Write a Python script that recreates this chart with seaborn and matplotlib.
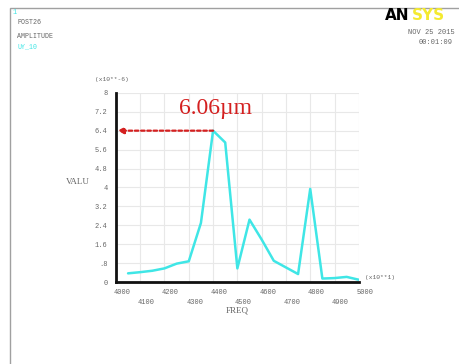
import numpy as np
import pandas as pd
import matplotlib
matplotlib.use('Agg')
import matplotlib.pyplot as plt
from matplotlib.patches import Rectangle
from matplotlib.transforms import ScaledTranslation
import seaborn as sns

# harmonic response, node 10 UY amplitude
freq = [4050, 4100, 4150, 4200, 4250, 4300, 4350, 4400, 4450, 4500,
        4550, 4600, 4650, 4700, 4750, 4800, 4850, 4900, 4950, 5000]
valu = [0.37, 0.42, 0.48, 0.58, 0.78, 0.88, 2.5, 6.4, 5.9, 0.58,
        2.64, 1.8, 0.9, 0.62, 0.34, 3.94, 0.15, 0.17, 0.22, 0.1]

xticks = [4000, 4100, 4200, 4300, 4400, 4500, 4600, 4700, 4800, 4900, 5000]
yticks = [0, 0.8, 1.6, 2.4, 3.2, 4.0, 4.8, 5.6, 6.4, 7.2, 8.0]
ylabels = ['0', '.8', '1.6', '2.4', '3.2', '4', '4.8', '5.6', '6.4', '7.2', '8']
peak_label = '6.06\u00b5m'

df = pd.DataFrame({'FREQ': freq, 'VALU': valu})

sns.set_style('white')
plt.rcParams['font.family'] = ['Liberation Mono', 'DejaVu Sans Mono']

gray = '#666666'
cyan = '#3fe6e6'
red = '#d42020'

fig = plt.figure(figsize=(4.6, 3.64), dpi=100)
ax = fig.add_axes([0.252, 0.225, 0.528, 0.52])

sns.lineplot(data=df, x='FREQ', y='VALU', ax=ax, color=cyan, lw=1.8)

ax.set_xlim(4000, 5000)
ax.set_ylim(0, 8)
ax.set_xticks(xticks)
ax.set_yticks(yticks)
ax.set_yticklabels(ylabels)
ax.grid(True, color='#e8e8e8', lw=0.8)
ax.set_xlabel('')
ax.set_ylabel('')
for s in ['top', 'right']:
    ax.spines[s].set_visible(False)
for s in ['left', 'bottom']:
    ax.spines[s].set_color('#111111')
    ax.spines[s].set_linewidth(2)
ax.tick_params(length=0, labelsize=5, labelcolor=gray)
ax.tick_params(axis='y', pad=6)

# staggered x labels, nudged right like the ANSYS plot
shift = ScaledTranslation(6 / 100, 0, fig.dpi_scale_trans)
for i, t in enumerate(ax.xaxis.get_major_ticks()):
    t.set_pad(12 if i % 2 else 5)
    t.label1.set_transform(t.label1.get_transform() + shift)

# peak arrow
i_pk = int(np.argmax(valu))
ax.annotate('', xy=(4000, valu[i_pk]), xytext=(freq[i_pk], valu[i_pk]),
            arrowprops=dict(arrowstyle='-|>', color=red, lw=1.6,
                            linestyle=(0, (1.6, 1.2)), mutation_scale=9,
                            shrinkA=0, shrinkB=1))
ax.text(0.41, 0.915, peak_label, transform=ax.transAxes, color=red,
        fontsize=17, family=['Liberation Serif', 'DejaVu Serif'],
        ha='center', va='center')

# axis captions
fig.text(95 / 460, 1 - 79 / 364, '(x10**-6)', fontsize=4.5, color=gray, va='center')
fig.text(365 / 460, 1 - 278 / 364, '(x10**1)', fontsize=4.5, color=gray, va='center')
fig.text(78 / 460, 1 - 182 / 364, 'VALU', fontsize=6.5, color=gray,
         family=['Liberation Serif'], ha='center', va='center')
fig.text(237 / 460, 1 - 311 / 364, 'FREQ', fontsize=6.5, color=gray,
         family=['Liberation Serif'], ha='center', va='center')

# header block
fig.text(13 / 460, 1 - 13 / 364, '1', fontsize=5, color=cyan, va='center')
fig.text(17 / 460, 1 - 23 / 364, 'POST26', fontsize=4.8, color=gray, va='center')
fig.text(17 / 460, 1 - 36 / 364, 'AMPLITUDE', fontsize=4.8, color=gray, va='center')
fig.text(17 / 460, 1 - 47 / 364, 'UY_10', fontsize=4.8, color=cyan, va='center')
fig.text(455 / 460, 1 - 32 / 364, 'NOV 25 2015', fontsize=5, color=gray,
         ha='right', va='center')
fig.text(453 / 460, 1 - 42 / 364, '00:01:09', fontsize=5, color=gray,
         ha='right', va='center')

# logo
fig.text(385 / 460, 1 - 16 / 364, 'AN', fontsize=11, fontweight='bold',
         family=['DejaVu Sans'], color='black', va='center')
fig.text(412 / 460, 1 - 16 / 364, 'SYS', fontsize=11, fontweight='bold',
         family=['DejaVu Sans'], color='#f4ea30', va='center')

# window frame
fig.patches.append(Rectangle((10 / 460, -0.05), 1.0, 1 - 8 / 364 + 0.05,
                             transform=fig.transFigure, fill=False,
                             edgecolor='#a0a0a0', lw=1.0))

fig.savefig('out.png', dpi=100)
